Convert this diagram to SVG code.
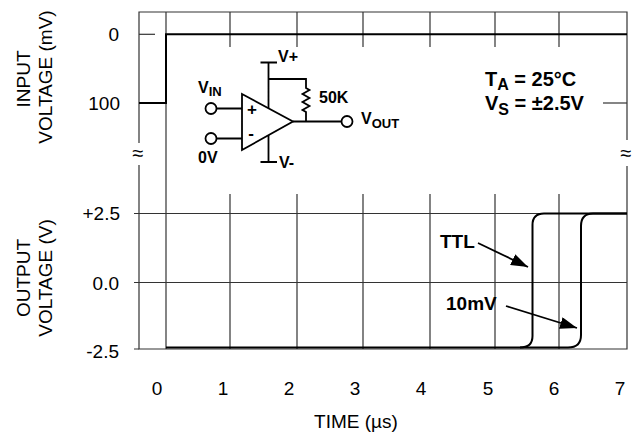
<svg xmlns="http://www.w3.org/2000/svg" width="639" height="439" viewBox="0 0 639 439">
<defs>
<style>
.grid{stroke:#333;stroke-width:1.2;fill:none}
.trace{stroke:#000;stroke-width:2;fill:none}
.wire{stroke:#000;stroke-width:1.8;fill:none}
.lbl{font-family:"Liberation Sans",Arial,sans-serif;font-size:19px;fill:#000}
.b{font-family:"Liberation Sans",Arial,sans-serif;font-weight:bold;fill:#000}
</style>
<marker id="ah" markerUnits="userSpaceOnUse" markerWidth="18" markerHeight="12" refX="17" refY="6" orient="auto">
<path d="M0,0 L17,6 L0,12 z" fill="#000"/>
</marker>
</defs>
<rect width="639" height="439" fill="#fff"/>

<g id="frame" class="grid">
<path d="M139,143 V12 H627 V140"/>
<path d="M139,165 V349 H627 V166"/>
<path d="M139,34.3 H155"/>
<path d="M603,103 H627"/>
<path d="M166,12 V349"/>
<path d="M230,12 V47 M297,12 V47 M363,12 V47 M430,12 V47 M495,12 V47 M559,12 V47"/>
<path d="M230,194 V349 M297,194 V349 M363,194 V349 M430,194 V349 M495,194 V349 M559,194 V349"/>
<path d="M134,213.5 H627 M134,282.5 H627 M134,349 H139"/>
</g>

<g id="breaks" class="lbl" text-anchor="middle" font-size="20">
<text x="138" y="160" style="font-size:20px">≈</text>
<text x="626" y="160" style="font-size:20px">≈</text>
</g>

<g id="axis-labels" class="lbl">
<text text-anchor="end" x="119" y="40.5">0</text>
<text text-anchor="end" x="120" y="110">100</text>
<text text-anchor="end" x="120" y="220">+2.5</text>
<text text-anchor="end" x="119" y="290">0.0</text>
<text text-anchor="end" x="119" y="358">-2.5</text>
<g text-anchor="middle">
<text x="157" y="395">0</text>
<text x="223" y="395">1</text>
<text x="289" y="395">2</text>
<text x="355" y="395">3</text>
<text x="421" y="395">4</text>
<text x="488" y="395">5</text>
<text x="554" y="395">6</text>
<text x="620" y="395">7</text>
<text x="356" y="428">TIME (µs)</text>
<text transform="translate(30,79) rotate(-90)">INPUT</text>
<text transform="translate(52,77) rotate(-90)">VOLTAGE (mV)</text>
<text transform="translate(30,278) rotate(-90)">OUTPUT</text>
<text transform="translate(52,278) rotate(-90)">VOLTAGE (V)</text>
</g>
</g>

<g id="connectors">
<path class="trace" d="M139,103 H166 V34.3 H627"/>
<path class="trace" d="M166,347.5 H520 Q532.5,347.5 532.5,336 V225 Q532.5,213.5 544,213.5 H627"/>
<path class="trace" d="M520,347.5 H568 Q581,347.5 581,335 V226 Q581,213.5 593,213.5 H627"/>
<line x1="478" y1="243" x2="528" y2="267" stroke="#000" stroke-width="1.8" marker-end="url(#ah)"/>
<line x1="506" y1="306" x2="577" y2="328" stroke="#000" stroke-width="1.8" marker-end="url(#ah)"/>
</g>

<g id="ttl-label"><text class="b" x="440" y="248" font-size="19">TTL</text></g>
<g id="tenmv-label"><text class="b" x="446" y="310" font-size="19">10mV</text></g>

<g id="conditions">
<text class="b" x="485" y="86" font-size="20">T<tspan font-size="16" dy="4">A</tspan><tspan dy="-4"> = 25°C</tspan></text>
<text class="b" x="485" y="110" font-size="20">V<tspan font-size="16" dy="5">S</tspan><tspan dy="-5"> = ±2.5V</tspan></text>
</g>

<g id="opamp">
<path class="wire" d="M242,94 L293,121.5 L242,150 Z"/>
<circle class="wire" cx="211" cy="108.5" r="5.5" fill="#fff"/>
<circle class="wire" cx="211" cy="138.5" r="5.5" fill="#fff"/>
<circle class="wire" cx="347" cy="121.5" r="5.5" fill="#fff"/>
<path class="wire" d="M216.5,108.5 H242 M216.5,138.5 H242"/>
<path class="wire" d="M293,121.5 H341.5"/>
<path class="wire" d="M268.5,108 V62.5 M260.5,62.5 H277 M268.5,79 H306 V88 l3.5,2 l-7,4 l7,4 l-7,4 l7,4 l-7,4 l3.5,2 V121.5"/>
<path class="wire" d="M268.5,135 V162 M260.5,162 H277"/>
<text class="b" x="252" y="115" font-size="17" text-anchor="middle">+</text>
<text class="b" x="251" y="139" font-size="17" text-anchor="middle">-</text>
<text class="b" x="278" y="62" font-size="16">V+</text>
<text class="b" x="279" y="168" font-size="16">V-</text>
<text class="b" x="198" y="93" font-size="16">V<tspan font-size="13" dy="3">IN</tspan></text>
<text class="b" x="198" y="163" font-size="16">0V</text>
<text class="b" x="319" y="103" font-size="16">50K</text>
<text class="b" x="361" y="124" font-size="16">V<tspan font-size="13" dy="4">OUT</tspan></text>
</g>
</svg>
